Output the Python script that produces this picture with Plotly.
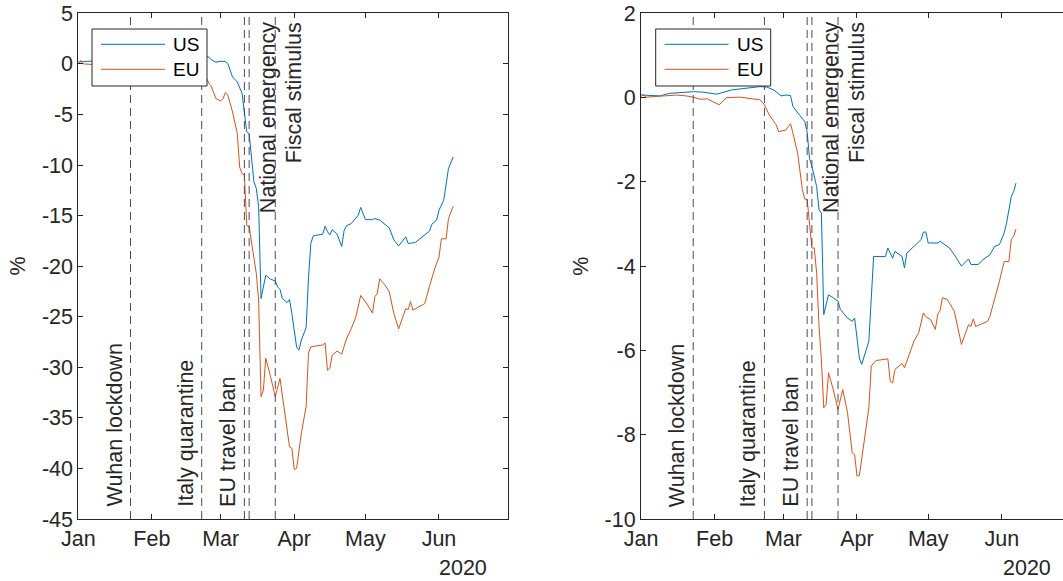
import plotly.graph_objects as go

# ------------------------------------------------------------------ data
# Left panel (values in %)
us_a_dates = ["2020-01-01", "2020-01-08", "2020-01-15", "2020-01-22", "2020-01-28", "2020-02-04",
              "2020-02-11", "2020-02-18", "2020-02-22", "2020-02-25", "2020-02-26", "2020-02-28",
              "2020-03-01", "2020-03-03", "2020-03-04", "2020-03-06", "2020-03-08", "2020-03-10",
              "2020-03-11", "2020-03-12", "2020-03-13", "2020-03-14", "2020-03-15", "2020-03-16",
              "2020-03-17", "2020-03-18", "2020-03-20", "2020-03-22", "2020-03-24", "2020-03-25",
              "2020-03-26", "2020-03-27", "2020-03-29", "2020-03-30", "2020-03-31", "2020-04-02",
              "2020-04-03", "2020-04-04", "2020-04-06", "2020-04-07", "2020-04-08", "2020-04-09",
              "2020-04-12", "2020-04-13", "2020-04-14", "2020-04-15", "2020-04-16", "2020-04-17",
              "2020-04-19", "2020-04-21", "2020-04-22", "2020-04-23", "2020-04-25", "2020-04-27",
              "2020-04-28", "2020-04-29", "2020-05-01", "2020-05-04", "2020-05-05", "2020-05-07",
              "2020-05-11", "2020-05-13", "2020-05-15", "2020-05-18", "2020-05-19", "2020-05-22",
              "2020-05-28", "2020-05-29", "2020-05-31", "2020-06-01", "2020-06-03", "2020-06-05",
              "2020-06-07"]
us_a = [0.2, 0.3, 0.35, 0.45, 0.3, 0.45,
        0.55, 0.7, 0.85, 0.68, 0.42, 0.16,
        0.26, 0.22, 0.03, -1.3, -1.79, -2.9,
        -5.08, -6.73, -6.89, -9.2, -11.67, -12.3,
        -14.1, -23.2, -20.9, -21.3, -21.45, -22.05,
        -22.3, -23.2, -23.6, -23.3, -24.7, -28.0,
        -28.3, -27.3, -26.1, -21.2, -17.76, -17.0,
        -16.87, -16.84, -16.05, -16.6, -16.9, -16.4,
        -16.8, -18.05, -16.5, -16.0, -15.8, -15.3,
        -14.96, -14.2, -15.4, -15.4, -15.3, -15.45,
        -16.2, -17.4, -18.0, -17.1, -17.76, -17.66,
        -16.54, -15.85, -15.45, -14.47, -13.48, -10.35,
        -9.2]

eu_a_dates = ["2020-01-01", "2020-01-02", "2020-01-03", "2020-01-10", "2020-01-20", "2020-01-24",
              "2020-01-28", "2020-02-01", "2020-02-04", "2020-02-10", "2020-02-17", "2020-02-21",
              "2020-02-23", "2020-02-25", "2020-02-26", "2020-02-28", "2020-03-01", "2020-03-02",
              "2020-03-03", "2020-03-04", "2020-03-06", "2020-03-08", "2020-03-09", "2020-03-10",
              "2020-03-11", "2020-03-12", "2020-03-13", "2020-03-14", "2020-03-16", "2020-03-17",
              "2020-03-18", "2020-03-19", "2020-03-20", "2020-03-22", "2020-03-24", "2020-03-26",
              "2020-03-28", "2020-03-30", "2020-03-31", "2020-04-01", "2020-04-02", "2020-04-04",
              "2020-04-06", "2020-04-07", "2020-04-08", "2020-04-13", "2020-04-14", "2020-04-15",
              "2020-04-16", "2020-04-17", "2020-04-19", "2020-04-21", "2020-04-23", "2020-04-25",
              "2020-04-27", "2020-04-29", "2020-05-01", "2020-05-04", "2020-05-05", "2020-05-06",
              "2020-05-07", "2020-05-09", "2020-05-11", "2020-05-13", "2020-05-15", "2020-05-18",
              "2020-05-19", "2020-05-20", "2020-05-21", "2020-05-26", "2020-05-28", "2020-05-30",
              "2020-06-01", "2020-06-02", "2020-06-04", "2020-06-05", "2020-06-07"]
eu_a = [0.0, 0.35, 0.0, -0.1, 0.0, -0.2,
        -0.5, -0.8, -0.3, -0.1, -0.1, -0.3,
        -0.9, -1.9, -2.2, -3.43, -3.67, -3.43,
        -2.84, -3.1, -4.75, -6.89, -10.2, -10.84,
        -11.0, -16.0, -16.1, -17.76, -20.7, -23.36,
        -32.9, -32.25, -29.1, -30.9, -32.9, -31.1,
        -34.56, -37.86, -38.0, -40.1, -40.0, -36.5,
        -33.9, -28.6, -27.97, -27.8, -27.6, -30.3,
        -30.1, -28.8, -28.4, -28.7, -27.2, -26.2,
        -25.0, -22.9, -23.5, -24.65, -23.0, -22.7,
        -21.25, -21.8, -22.5, -24.7, -26.2, -24.2,
        -24.3, -23.5, -24.35, -23.7, -22.0, -20.4,
        -19.1, -17.3, -17.3, -15.3, -14.07]

# Right panel (values in %)
us_b_dates = ["2020-01-01", "2020-01-09", "2020-01-13", "2020-01-23", "2020-01-27", "2020-02-02",
              "2020-02-08", "2020-02-13", "2020-02-20", "2020-02-23", "2020-02-26", "2020-02-29",
              "2020-03-02", "2020-03-04", "2020-03-05", "2020-03-08", "2020-03-10", "2020-03-11",
              "2020-03-12", "2020-03-13", "2020-03-15", "2020-03-16", "2020-03-17", "2020-03-18",
              "2020-03-20", "2020-03-22", "2020-03-24", "2020-03-25", "2020-03-28", "2020-03-30",
              "2020-03-31", "2020-04-02", "2020-04-03", "2020-04-06", "2020-04-08", "2020-04-13",
              "2020-04-14", "2020-04-16", "2020-04-17", "2020-04-20", "2020-04-21", "2020-04-22",
              "2020-04-25", "2020-04-28", "2020-04-29", "2020-04-30", "2020-05-01", "2020-05-05",
              "2020-05-06", "2020-05-10", "2020-05-12", "2020-05-15", "2020-05-18", "2020-05-19",
              "2020-05-22", "2020-05-24", "2020-05-27", "2020-05-29", "2020-05-31", "2020-06-02",
              "2020-06-03", "2020-06-05", "2020-06-06", "2020-06-07"]
us_b = [0.06, 0.04, 0.10, 0.14, 0.13, 0.08,
        0.18, 0.22, 0.26, 0.25, 0.18, 0.04,
        0.06, 0.05, -0.21, -0.43, -0.57, -0.81,
        -1.44, -1.63, -2.11, -2.66, -2.74, -5.15,
        -4.68, -4.75, -4.83, -5.03, -5.23, -5.31,
        -5.23, -6.18, -6.33, -5.78, -3.77, -3.77,
        -3.57, -3.81, -3.65, -3.77, -4.04, -3.69,
        -3.53, -3.37, -3.19, -3.19, -3.45, -3.45,
        -3.41, -3.57, -3.73, -4.0, -3.83, -3.96,
        -3.96, -3.85, -3.73, -3.53, -3.49, -3.21,
        -2.98, -2.35, -2.23, -2.03]

eu_b_dates = ["2020-01-01", "2020-01-02", "2020-01-03", "2020-01-09", "2020-01-16", "2020-01-20",
              "2020-01-23", "2020-01-26", "2020-01-29", "2020-01-31", "2020-02-03", "2020-02-06",
              "2020-02-12", "2020-02-17", "2020-02-20", "2020-02-22", "2020-02-24", "2020-02-27",
              "2020-02-28", "2020-03-02", "2020-03-04", "2020-03-05", "2020-03-07", "2020-03-09",
              "2020-03-10", "2020-03-11", "2020-03-12", "2020-03-13", "2020-03-14", "2020-03-15",
              "2020-03-16", "2020-03-17", "2020-03-18", "2020-03-19", "2020-03-20", "2020-03-22",
              "2020-03-24", "2020-03-26", "2020-03-28", "2020-03-30", "2020-03-31", "2020-04-01",
              "2020-04-02", "2020-04-04", "2020-04-06", "2020-04-07", "2020-04-09", "2020-04-14",
              "2020-04-15", "2020-04-16", "2020-04-17", "2020-04-20", "2020-04-21", "2020-04-23",
              "2020-04-25", "2020-04-27", "2020-04-29", "2020-04-30", "2020-05-02", "2020-05-04",
              "2020-05-05", "2020-05-06", "2020-05-07", "2020-05-09", "2020-05-12", "2020-05-15",
              "2020-05-18", "2020-05-19", "2020-05-20", "2020-05-21", "2020-05-26", "2020-05-27",
              "2020-05-29", "2020-05-31", "2020-06-01", "2020-06-02", "2020-06-04", "2020-06-05",
              "2020-06-06", "2020-06-07"]
eu_b = [0.02, 0.08, 0.01, 0.04, 0.06, 0.04,
        0.01, -0.04, -0.03, -0.09, -0.17, 0.0,
        0.01, -0.03, -0.05, -0.17, -0.41, -0.65,
        -0.81, -0.77, -0.62, -0.84, -1.32, -2.19,
        -2.41, -2.41, -3.06, -3.57, -3.57, -4.16,
        -5.43, -6.22, -7.36, -7.28, -6.53, -6.93,
        -7.40, -6.93, -7.48, -8.43, -8.47, -8.98,
        -8.97, -8.19, -7.36, -6.37, -6.24, -6.2,
        -6.73, -6.77, -6.45, -6.31, -6.41, -6.10,
        -5.78, -5.58, -5.11, -5.2, -5.27, -5.5,
        -5.15, -5.05, -4.75, -4.79, -5.07, -5.86,
        -5.39, -5.43, -5.25, -5.43, -5.31, -5.19,
        -4.79, -4.36, -4.12, -3.89, -3.89, -3.37,
        -3.29, -3.12]

# Events
event_dates = ["2020-01-23", "2020-02-22", "2020-03-11", "2020-03-13", "2020-03-24"]
event_labels = ["Wuhan lockdown", "Italy quarantine", "EU travel ban", "National emergency", "Fiscal stimulus"]
event_label_side = ["left", "left", "left", "right", "right"]

# Axis ticks
month_ticks = ["2020-01-01", "2020-02-01", "2020-03-01", "2020-04-01", "2020-05-01", "2020-06-01"]
month_labels = ["Jan", "Feb", "Mar", "Apr", "May", "Jun"]
y_ticks_a = [5, 0, -5, -10, -15, -20, -25, -30, -35, -40, -45]
y_ticks_b = [2, 0, -2, -4, -6, -8, -10]
series_names = ["US", "EU"]

# ------------------------------------------------------------------ style
W, H = 1063, 581
FONT = "Liberation Sans, Arial, Helvetica, sans-serif"
FS = 21.5
AXC = "#262626"
US_COL = "#0072BD"
EU_COL = "#D95319"
DASH_COL = "#4d4d4d"


def fx(p):
    return p / W


def fy(p):
    return 1 - p / H


fig = go.Figure()

panels = [
    dict(x="x", y="y", us=(us_a_dates, us_a), eu=(eu_a_dates, eu_a),
         left=78.3, right=507.8, yr=[-45, 5], yt=y_ticks_a,
         xend="2020-06-30", mirror_y="ticks", pct_x=18.3, year_right=489,
         leg=(92, 207, 101, 165, 171)),
    dict(x="x2", y="y2", us=(us_b_dates, us_b), eu=(eu_b_dates, eu_b),
         left=641.0, right=1063.0, yr=[-10, 2], yt=y_ticks_b,
         xend="2020-06-26 19:00", mirror_y=False, pct_x=580.7, year_right=1053,
         leg=(655.7, 770.7, 664.5, 728.5, 734.5)),
]

TOP, BOT = 13.3, 519.0
shapes = []
annotations = []

for i, p in enumerate(panels):
    for (d, v), col, nm in ((p["us"], US_COL, "US"), (p["eu"], EU_COL, "EU")):
        fig.add_trace(go.Scatter(x=d, y=v, mode="lines", name=nm,
                                 line=dict(color=col, width=1),
                                 xaxis=p["x"], yaxis=p["y"], showlegend=False,
                                 hoverinfo="skip"))
    sfx = "" if i == 0 else "2"
    fig.update_layout(**{
        "xaxis" + sfx: dict(
            domain=[fx(p["left"]), fx(p["right"])], anchor="y" + sfx, type="date",
            range=["2020-01-01", p["xend"]], tickmode="array", tickvals=month_ticks,
            ticktext=month_labels, ticks="inside", ticklen=5, tickcolor=AXC,
            showline=True, linecolor=AXC, linewidth=1, mirror="ticks",
            showgrid=False, zeroline=False, automargin=False,
            tickfont=dict(family=FONT, size=FS, color=AXC)),
        "yaxis" + sfx: dict(
            domain=[fy(BOT), fy(TOP)], anchor="x" + sfx, range=p["yr"],
            tickmode="array", tickvals=p["yt"], ticktext=[str(t) for t in p["yt"]],
            ticks="inside", ticklen=5, tickcolor=AXC, showline=True, linecolor=AXC,
            linewidth=1, mirror=p["mirror_y"], showgrid=False, zeroline=False,
            automargin=False, tickfont=dict(family=FONT, size=FS, color=AXC)),
    })

    # event lines + labels
    for d, lab, side in zip(event_dates, event_labels, event_label_side):
        shapes.append(dict(type="line", xref=p["x"], yref=p["y"] + " domain",
                           x0=d, x1=d, y0=0, y1=1, layer="above",
                           line=dict(color=DASH_COL, width=1, dash="8px,5px")))
        if side == "left":
            annotations.append(dict(x=d, xref=p["x"], y=fy(509), yref="paper",
                                    text=lab, textangle=-90, showarrow=False,
                                    xanchor="right", yanchor="bottom", xshift=-2.5,
                                    font=dict(family=FONT, size=FS, color=AXC)))
        else:
            annotations.append(dict(x=d, xref=p["x"], y=fy(20), yref="paper",
                                    text=lab, textangle=-90, showarrow=False,
                                    xanchor="left", yanchor="top", xshift=4.5,
                                    font=dict(family=FONT, size=FS, color=AXC)))

    # legend box
    bx0, bx1, lx0, lx1, tx = p["leg"]
    shapes.append(dict(type="rect", xref="paper", yref="paper",
                       x0=fx(bx0), x1=fx(bx1), y0=fy(86), y1=fy(29), layer="above",
                       fillcolor="white", line=dict(color=AXC, width=1)))
    for nm, col, yy in zip(series_names, (US_COL, EU_COL), (44.3, 69.3)):
        shapes.append(dict(type="line", xref="paper", yref="paper",
                           x0=fx(lx0), x1=fx(lx1), y0=fy(yy), y1=fy(yy), layer="above",
                           line=dict(color=col, width=1)))
        annotations.append(dict(x=fx(tx), y=fy(yy), xref="paper", yref="paper",
                                text=nm, showarrow=False, xanchor="left", yanchor="middle",
                                font=dict(family=FONT, size=19, color="black")))

    # y label and year label
    annotations.append(dict(x=fx(p["pct_x"]), y=fy((TOP + BOT) / 2), xref="paper", yref="paper",
                            text="%", textangle=-90, showarrow=False,
                            xanchor="center", yanchor="middle",
                            font=dict(family=FONT, size=FS, color=AXC)))
    annotations.append(dict(x=fx(p["year_right"]), y=fy(568), xref="paper", yref="paper",
                            text="2020", showarrow=False, xanchor="right", yanchor="middle",
                            font=dict(family=FONT, size=FS, color=AXC)))

fig.update_layout(
    width=W, height=H, margin=dict(l=0, r=0, t=0, b=0, pad=0),
    paper_bgcolor="white", plot_bgcolor="white", template="none",
    showlegend=False, shapes=shapes, annotations=annotations,
    font=dict(family=FONT, color=AXC),
)

fig.write_html("out.html")
